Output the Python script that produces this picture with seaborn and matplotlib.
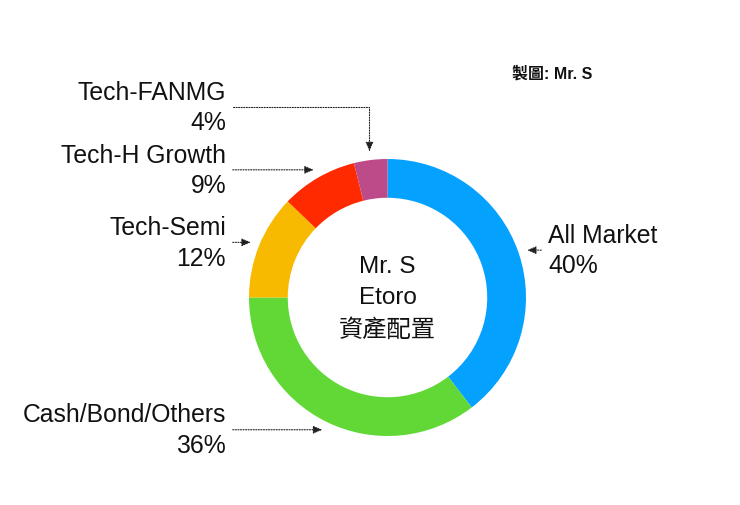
import numpy as np
import matplotlib
matplotlib.use("Agg")
import matplotlib.pyplot as plt
import seaborn as sns

categories = ["All Market", "Cash/Bond/Others", "Tech-Semi", "Tech-H Growth", "Tech-FANMG"]
values = [39.6, 35.4, 12.2, 8.9, 3.9]
pct_labels = ["40%", "36%", "12%", "9%", "4%"]
colors = ["#04A1FF", "#61D836", "#F8BA00", "#FF2A00", "#BD4B8A"]
center_lines = ["Mr. S", "Etoro", "資產配置"]
credit = "製圖: Mr. S"

sns.set_theme(style="white")
plt.rcParams['font.family'] = ['Liberation Sans', 'Noto Sans CJK TC', 'DejaVu Sans']

W, H = 740, 506
fig = plt.figure(figsize=(W / 100, H / 100), dpi=100)
ax = fig.add_axes([0, 0, 1, 1])

wedges, _ = ax.pie(values, colors=colors, startangle=90, counterclock=False,
                   radius=1.0, wedgeprops=dict(width=0.28, edgecolor='none'))

# pixel geometry of the donut
cx, cy, R = 387.5, 298.5, 138.5
ax.set_xlim(-cx / R, (W - cx) / R)
ax.set_ylim(-(H - cy) / R, cy / R)
ax.set_aspect('equal')
ax.axis('off')

ax.text(0, 0.0, "\n".join(center_lines), ha='center', va='center', fontsize=17.5,
        linespacing=1.55, color='#111111')

fig.text(512 / W, 1 - 74 / H, credit, ha='left', va='center', fontsize=11.5,
         fontweight='bold', color='#111111')

tip_r = 1.065
left_x = (226 - cx) / R
right_x = (548 - cx) / R
lab_fs = 17.8
arrow_kw = dict(arrowstyle='-|>,head_length=0.3,head_width=0.13', linestyle=(0, (1, 1.3)),
                lw=0.8, color='#222222', shrinkA=2.5, shrinkB=0)

for w, cat, pct in zip(wedges, categories, pct_labels):
    ang = np.deg2rad((w.theta1 + w.theta2) / 2)
    tx, ty = tip_r * np.cos(ang), tip_r * np.sin(ang)
    label = f"{cat}\n{pct}"
    if np.cos(ang) > 0:
        ax.annotate(label, xy=(tx, ty), xytext=(right_x, ty), ha='left', va='center',
                    fontsize=lab_fs, linespacing=1.35, arrowprops=arrow_kw, color='#111111')
    elif cat == "Tech-FANMG":
        ly = (cy - 108) / R
        ax.annotate(label, xy=(tx, ty), xytext=(left_x, ly), ha='right', va='center',
                    fontsize=lab_fs, linespacing=1.35, color='#111111', multialignment='right',
                    arrowprops=dict(arrow_kw, connectionstyle="angle,angleA=0,angleB=90,rad=0"))
    else:
        ax.annotate(label, xy=(tx, ty), xytext=(left_x, ty), ha='right', va='center',
                    fontsize=lab_fs, linespacing=1.35, arrowprops=arrow_kw, color='#111111',
                    multialignment='right')

fig.savefig("out.png", dpi=100, facecolor='white')
